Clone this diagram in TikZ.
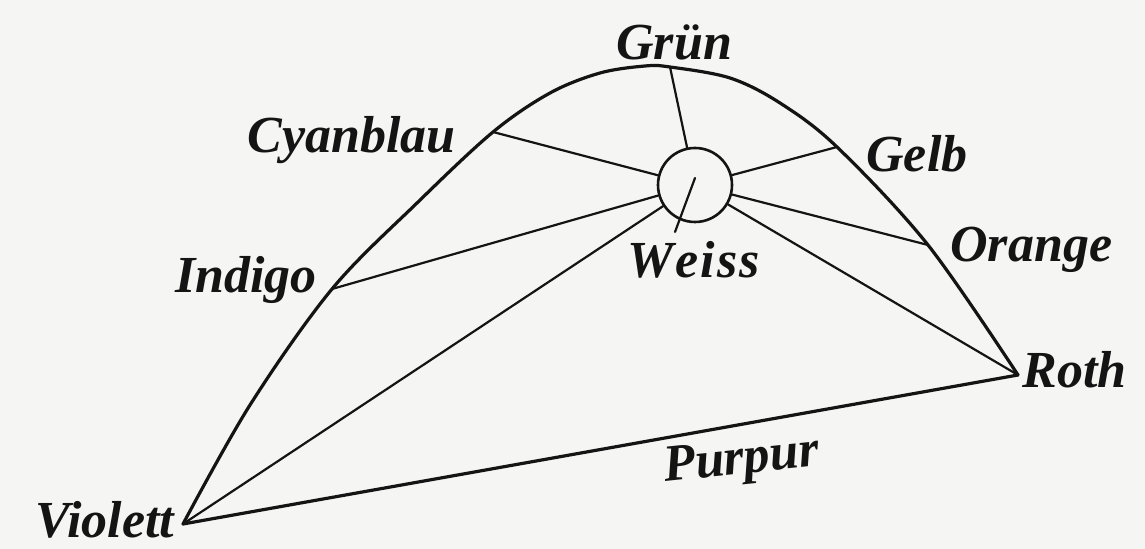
\documentclass[tikz,border=0pt]{standalone}
\usepackage{fontspec}
\setmainfont{Liberation Serif}
\definecolor{paper}{RGB}{245,245,243}
\definecolor{ink}{RGB}{20,20,20}
\begin{document}
\begin{tikzpicture}[x=0.5pt,y=-0.5pt,
  lab/.style={font=\fontsize{26}{30}\selectfont\bfseries\itshape, text=ink, inner sep=0pt, anchor=base west},
  curveline/.style={draw=ink, line width=1.6pt, line cap=round, line join=round},
  spoke/.style={draw=ink, line width=1.1pt, line cap=round},
  whitedisc/.style={circle, draw=ink, line width=1.3pt, minimum size=37pt, inner sep=0pt}]
\fill[paper] (0,0) rectangle (1145,549);
\useasboundingbox (0,0) rectangle (1145,549);
% points on the boundary
\coordinate (V) at (183,524);
\coordinate (I) at (332,289);
\coordinate (C) at (493,132);
\coordinate (Gr) at (670,67);
\coordinate (G) at (837,147);
\coordinate (O) at (928,245);
\coordinate (R) at (1018,375);
% white disc
\node[whitedisc] (W) at (695,185) {};
% curved boundary
\draw[curveline] plot[smooth, tension=0.55] coordinates {(V) (250,405) (I) (417,203) (C) (550,93) (600,73) (645,66) (Gr) (730,78) (780,103) (G) (O) (R)};
% purple line
\draw[curveline] (V) -- (R);
% spokes
\draw[spoke] (Gr) -- (W);
\draw[spoke] (C) -- (W);
\draw[spoke] (I) -- (W);
\draw[spoke] (V) -- (W);
\draw[spoke] (G) -- (W);
\draw[spoke] (O) -- (W);
\draw[spoke] (R) -- (W);
\coordinate (w1) at (695,178);
\coordinate (w2) at (675,232);
\draw[spoke] (w1) -- (w2);
% labels
\node[lab] (lGr) at (616,60) {Grün};
\node[lab] (lC) at (247,153) {Cyanblau};
\node[lab] (lI) at (175,293) {Indigo};
\node[lab] (lV) at (35,538) {Violett};
\node[lab] (lG) at (866,172) {Gelb};
\node[lab] (lO) at (950,262) {Orange};
\node[lab] (lR) at (1022,388) {Roth};
\node[lab] (lW) at (627,278) {W\kern1pt e\kern1pt i\kern1pt s\kern1pt s};
\node[lab, rotate=6] (lP) at (665,482) {Purpur};
\end{tikzpicture}
\end{document}
